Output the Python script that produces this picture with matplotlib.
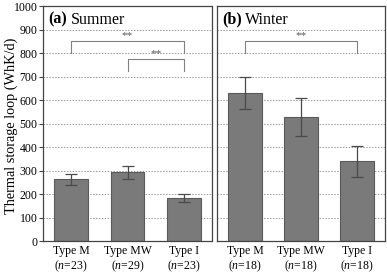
import matplotlib
matplotlib.use('Agg')
import matplotlib.pyplot as plt

# data
types = ['Type M', 'Type MW', 'Type I']
summer_n = [23, 29, 23]
winter_n = [18, 18, 18]
summer_mean = [262, 293, 183]
summer_err = [22, 27, 17]
winter_mean = [630, 527, 340]
winter_err = [70, 81, 66]

plt.rcParams['font.family'] = ['Liberation Serif', 'DejaVu Serif']
plt.rcParams['mathtext.fontset'] = 'custom'
plt.rcParams['mathtext.rm'] = 'Liberation Serif'
plt.rcParams['mathtext.it'] = 'Liberation Serif:italic'

fig = plt.figure(figsize=(3.87, 2.73), dpi=100)
ax1 = fig.add_axes([0.111, 0.117, 0.437, 0.861])
ax2 = fig.add_axes([0.561, 0.117, 0.434, 0.861])


def draw_panel(ax, means, errs, ns, bold, name, brackets):
	x = range(len(types))
	ax.bar(x, means, width=0.6, color='#7a7a7a', edgecolor='#5a5a5a',
		linewidth=0.8, zorder=2)
	ax.errorbar(x, means, yerr=errs, fmt='none', ecolor='#4a4a4a',
		elinewidth=0.9, capsize=4, capthick=0.9, zorder=3)
	ax.set_xlim(-0.5, 2.5)
	ax.set_ylim(0, 1000)
	ax.set_yticks(range(0, 1001, 100))
	ax.set_xticks(list(x))
	ax.set_xticklabels(['%s\n($n$=%d)' % (t, n) for t, n in zip(types, ns)],
		fontsize=8.5, linespacing=1.15)
	ax.grid(axis='y', linestyle=(0, (1.5, 1.5)), color='#999999',
		linewidth=0.7, zorder=0)
	ax.tick_params(axis='x', length=0, pad=3, labelsize=8.5)
	ax.tick_params(axis='y', length=3, width=0.8, color='#444444', pad=1,
		labelsize=8.5)
	for s in ax.spines.values():
		s.set_color('#444444')
		s.set_linewidth(0.9)
	ax.text(0.03, 0.975, bold, transform=ax.transAxes, fontsize=11.5,
		fontweight='bold', va='top', ha='left')
	ax.text(0.03 + 0.135, 0.975, name, transform=ax.transAxes, fontsize=11.5,
		va='top', ha='left')
	# significance brackets
	for x0, x1, ylo, yhi in brackets:
		ax.plot([x0, x0, x1, x1], [ylo, yhi, yhi, ylo], color='#808080',
			linewidth=0.8, zorder=3)
		ax.text((x0 + x1) / 2, yhi + 3, '**', ha='center', va='bottom',
			fontsize=8, color='#555555')


draw_panel(ax1, summer_mean, summer_err, summer_n, '(a)', 'Summer',
	[(0, 2, 800, 850), (1, 2, 725, 775)])
draw_panel(ax2, winter_mean, winter_err, winter_n, '(b)', 'Winter',
	[(0, 2, 800, 850)])
ax2.tick_params(axis='y', length=0)
ax2.set_yticklabels([])
ax1.set_ylabel('Thermal storage loop (WhK/d)', fontsize=10.3)
ax1.yaxis.set_label_coords(-0.145, 0.49)

fig.savefig('out.png', dpi=100)
